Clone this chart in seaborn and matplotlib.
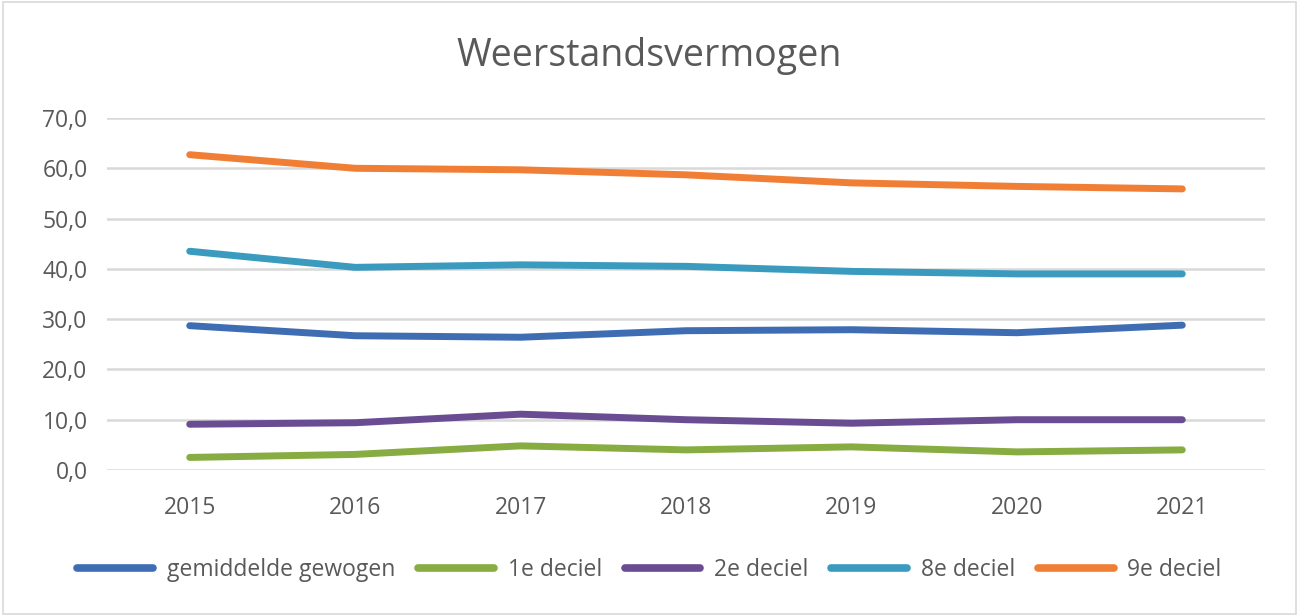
import matplotlib
matplotlib.use("Agg")
import matplotlib.pyplot as plt
import seaborn as sns
import pandas as pd
from matplotlib.patches import Rectangle
from matplotlib.lines import Line2D

years = ["2015", "2016", "2017", "2018", "2019", "2020", "2021"]
gemiddelde = [28.7, 26.7, 26.4, 27.7, 27.9, 27.3, 28.8]
deciel1 = [2.5, 3.1, 4.8, 4.0, 4.6, 3.6, 4.0]
deciel2 = [9.1, 9.4, 11.1, 10.0, 9.3, 10.0, 10.0]
deciel8 = [43.5, 40.3, 40.8, 40.5, 39.5, 39.0, 39.0]
deciel9 = [62.7, 60.0, 59.7, 58.7, 57.1, 56.4, 55.9]

series_names = ["gemiddelde gewogen", "1e deciel", "2e deciel", "8e deciel", "9e deciel"]
series_vals = [gemiddelde, deciel1, deciel2, deciel8, deciel9]
colors = ["#3F6DB3", "#87AC42", "#6A4C92", "#3A9BBE", "#F07F35"]

rows = []
for name, vals in zip(series_names, series_vals):
    for i, (y, v) in enumerate(zip(years, vals)):
        rows.append({"jaar": i, "serie": name, "waarde": v})
df = pd.DataFrame(rows)

sns.set_theme(style="white")
plt.rcParams['font.family'] = ['Open Sans', 'DejaVu Sans']

fig = plt.figure(figsize=(12.99, 6.16), dpi=100)
ax = fig.add_axes([107/1299, 1 - 470/616, (1265 - 107)/1299, (470 - 118)/616])

sns.lineplot(data=df, x="jaar", y="waarde", hue="serie", hue_order=series_names,
             palette=colors, linewidth=5, ax=ax, legend=False,
             solid_capstyle="round", solid_joinstyle="round", zorder=3)

ax.set_xlim(-0.5, len(years) - 0.5)
ax.set_ylim(0, 70)
ax.set_yticks(range(0, 71, 10))
ax.set_yticklabels([f"{v},0" for v in range(0, 71, 10)])
ax.set_xticks(range(len(years)))
ax.set_xticklabels(years)
ax.grid(axis="y", color="#D9D9D9", linewidth=1.8, zorder=0)
ax.grid(axis="x", visible=False)
for s in ax.spines.values():
    s.set_visible(False)
ax.tick_params(axis="both", length=0, labelsize=16.5, labelcolor="#595959")
ax.tick_params(axis="y", pad=14)
ax.tick_params(axis="x", pad=19)
ax.set_xlabel("")
ax.set_ylabel("")

fig.text(0.5, 1 - 56/616, "Weerstandsvermogen", ha="center", va="center",
         fontsize=27, color="#595959")

handles = [Line2D([0], [0], color=c, linewidth=5.5, solid_capstyle="round") for c in colors]
fig.legend(handles, series_names, loc="center", bbox_to_anchor=(0.5, 1 - 570/616),
           ncol=5, frameon=False, fontsize=16.5, handlelength=3.3, columnspacing=1.0,
           handletextpad=0.6, labelcolor="#595959")

fig.patches.append(Rectangle((0.002, 0.003), 0.996, 0.994, transform=fig.transFigure,
                             fill=False, edgecolor="#D9D9D9", linewidth=1.2))

fig.savefig("out.png", dpi=100)
